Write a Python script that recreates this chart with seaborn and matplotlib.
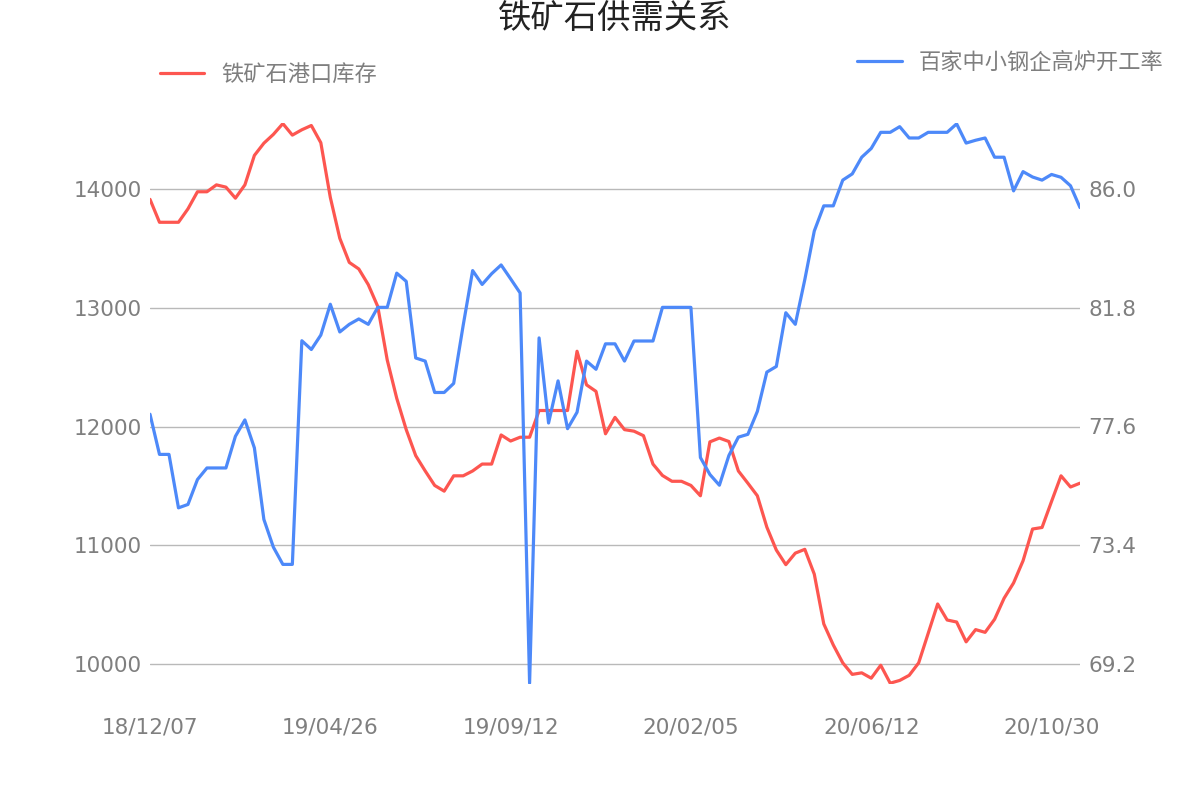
import matplotlib
matplotlib.use("Agg")
import matplotlib.pyplot as plt
import pandas as pd
import seaborn as sns

# 铁矿石港口库存 (万吨), weekly
port_stock = [
    13913, 13720, 13720, 13720, 13833, 13977, 13977, 14035, 14016, 13923,
    14035, 14283, 14386, 14460, 14551, 14454, 14499, 14535, 14390, 13930,
    13585, 13382, 13327, 13195, 13011, 12560, 12238, 11974, 11755, 11626,
    11504, 11456, 11585, 11585, 11626, 11684, 11684, 11929, 11878, 11910,
    11910, 12135, 12135, 12135, 12135, 12634, 12351, 12296, 11939, 12077,
    11974, 11961, 11923, 11684, 11588, 11539, 11539, 11504, 11417, 11871,
    11903, 11874, 11626, 11523, 11417, 11153, 10960, 10837, 10934, 10966,
    10757, 10338, 10161, 10010, 9913, 9926, 9881, 9990, 9839, 9862,
    9905, 10010, 10258, 10506, 10371, 10354, 10187, 10290, 10267, 10377,
    10554, 10683, 10870, 11137, 11150, 11369, 11585, 11491, 11523,
]

# 百家中小钢企高炉开工率 (%)
blast_rate = [
    78.03, 76.61, 76.61, 74.72, 74.84, 75.72, 76.13, 76.13, 76.13, 77.25,
    77.83, 76.84, 74.31, 73.33, 72.72, 72.72, 80.63, 80.32, 80.83, 81.92,
    80.94, 81.21, 81.40, 81.21, 81.81, 81.81, 83.02, 82.73, 80.02, 79.91,
    78.80, 78.80, 79.12, 81.17, 83.11, 82.62, 83.00, 83.31, 82.82, 82.32,
    68.52, 80.73, 77.72, 79.21, 77.52, 78.10, 79.91, 79.62, 80.52, 80.52,
    79.91, 80.62, 80.62, 80.62, 81.81, 81.81, 81.81, 81.81, 76.50, 75.90,
    75.52, 76.57, 77.22, 77.32, 78.13, 79.52, 79.72, 81.62, 81.21, 82.79,
    84.51, 85.40, 85.40, 86.31, 86.53, 87.12, 87.43, 88.00, 88.00, 88.20,
    87.80, 87.80, 88.00, 88.00, 88.00, 88.30, 87.62, 87.72, 87.80, 87.12,
    87.12, 85.93, 86.61, 86.42, 86.31, 86.51, 86.41, 86.11, 85.34,
]

tick_idx = [0, 19, 38, 57, 76, 95]
tick_labels = ["18/12/07", "19/04/26", "19/09/12", "20/02/05", "20/06/12", "20/10/30"]

left_ticks = [10000, 11000, 12000, 13000, 14000]
right_ticks = [69.2, 73.4, 77.6, 81.8, 86.0]

RED = "#fd5650"
BLUE = "#4d89f9"
GRAY = "#7f7f7f"
GRID = "#b9b9b9"


def main():
    sns.set_theme(style="white")
    plt.rcParams["font.family"] = ["DejaVu Sans", "Noto Sans CJK SC"]
    cjk = ["Noto Sans CJK SC", "DejaVu Sans"]

    df = pd.DataFrame({
        "idx": range(len(port_stock)),
        "stock": port_stock,
        "rate": blast_rate,
    })

    fig = plt.figure(figsize=(12, 8), dpi=100)
    ax = fig.add_axes([0.125, 0.145, 0.775, 0.70125])
    ax2 = ax.twinx()

    sns.lineplot(data=df, x="idx", y="stock", ax=ax, color=RED, linewidth=2.3, zorder=3)
    sns.lineplot(data=df, x="idx", y="rate", ax=ax2, color=BLUE, linewidth=2.3, zorder=3)

    ax.set_xlim(0, len(port_stock) - 1)
    ax.set_ylim(9832, 14556)
    ax2.set_ylim(68.49, 88.33)

    ax.set_yticks(left_ticks)
    ax.set_yticklabels([str(v) for v in left_ticks])
    ax2.set_yticks(right_ticks)
    ax2.set_yticklabels([f"{v:.1f}" for v in right_ticks])
    ax.set_xticks(tick_idx)
    ax.set_xticklabels(tick_labels)

    ax.grid(axis="y", color=GRID, linewidth=1)
    ax.set_axisbelow(True)
    ax2.grid(False)
    for a in (ax, ax2):
        for s in a.spines.values():
            s.set_visible(False)
        a.set_xlabel("")
        a.set_ylabel("")
        a.tick_params(length=0, labelsize=15.5, labelcolor=GRAY)
    ax.tick_params(axis="x", pad=24)
    ax.tick_params(axis="y", pad=6)
    ax2.tick_params(axis="y", pad=6)

    fig.text(615 / 1200, 1 - 18 / 800, "铁矿石供需关系", ha="center", va="center",
             fontsize=24, color="#222222", family=cjk)

    red_h = plt.Line2D([], [], color=RED, linewidth=2.3)
    blue_h = plt.Line2D([], [], color=BLUE, linewidth=2.3)
    fig.legend([red_h], ["铁矿石港口库存"], loc="center left",
               bbox_to_anchor=(160 / 1200, 1 - 74 / 800), frameon=False,
               prop={"family": cjk, "size": 16}, labelcolor=GRAY,
               handlelength=2.0, handletextpad=0.75, borderpad=0, borderaxespad=0)
    fig.legend([blue_h], ["百家中小钢企高炉开工率"], loc="center right",
               bbox_to_anchor=(1163 / 1200, 1 - 62 / 800), frameon=False,
               prop={"family": cjk, "size": 16}, labelcolor=GRAY,
               handlelength=2.0, handletextpad=0.75, borderpad=0, borderaxespad=0)

    fig.savefig("out.png", dpi=100)
    plt.close(fig)


if __name__ == "__main__":
    main()
